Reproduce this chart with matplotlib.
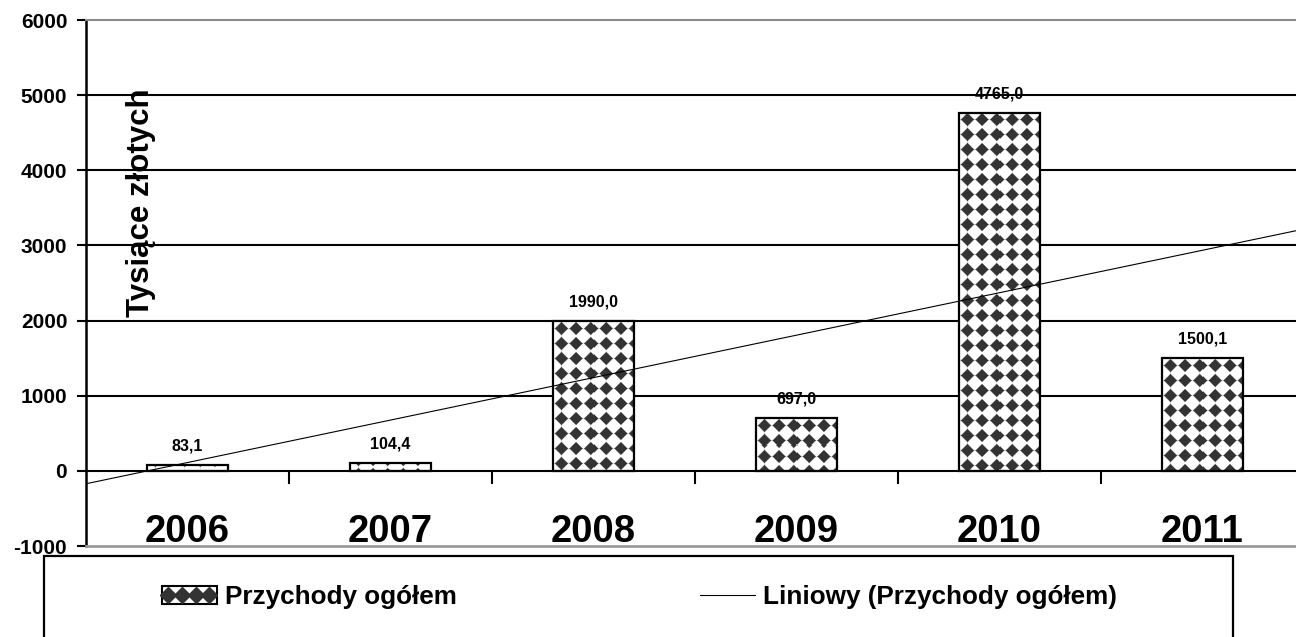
import numpy as np
import matplotlib
matplotlib.use("Agg")
import matplotlib.pyplot as plt
from matplotlib.patches import Rectangle
from matplotlib.lines import Line2D
from matplotlib.legend_handler import HandlerBase

# ---- data ----
years = ["2006", "2007", "2008", "2009", "2010", "2011"]
values = [83.1, 104.4, 1990.0, 697.0, 4765.0, 1500.1]
yticks = [-1000, 0, 1000, 2000, 3000, 4000, 5000, 6000]
ylabel = "Tysiące złotych"
series_name = "Przychody ogółem"
trend_name = "Liniowy (Przychody ogółem)"

plt.rcParams['font.family'] = ['Liberation Sans', 'DejaVu Sans']
plt.rcParams['font.weight'] = 'bold'

W, H = 1296, 637
fig = plt.figure(figsize=(W / 100, H / 100), dpi=100)
fig.patch.set_facecolor('white')

# axes in pixel layout: left 86, right 1304, top 20, bottom 546
ax = fig.add_axes([86 / W, 1 - 546 / H, 1218 / W, 526 / H])

x = np.arange(len(years))
ax.set_xlim(-0.5, len(years) - 0.5)
ax.set_ylim(yticks[0], yticks[-1])

bar_w = 0.40
bars = ax.bar(x, values, width=bar_w, facecolor='none', edgecolor='black',
              linewidth=1.6, zorder=2)

# diamond pattern fill (generated per bar in pixel units)
dark = np.array([0.2, 0.2, 0.2])
period_x, period_y, rad = 14.6, 15.0, 6.6
for b in bars:
    (px0, py0) = ax.transData.transform((b.get_x(), 0))
    (px1, py1) = ax.transData.transform((b.get_x() + b.get_width(), b.get_height()))
    wpx = max(1, int(round(px1 - px0)))
    hpx = max(1, int(round(py1 - py0)))
    cx = np.arange(wpx) + 0.5
    cy = np.arange(hpx) + 0.5  # from top of bar
    row0 = 7.5 if hpx > 20 else 11.5
    dx = np.abs(((cx - 8.5) + period_x / 2) % period_x - period_x / 2)
    dy = np.abs(((cy - row0) + period_y / 2) % period_y - period_y / 2)
    d = dx[None, :] + dy[:, None]
    t = np.clip((d - rad) / 1.6 + 0.5, 0, 1)[..., None]
    img = dark * (1 - t) + np.ones(3) * t
    ax.imshow(img, extent=(b.get_x(), b.get_x() + b.get_width(), 0, b.get_height()),
              aspect='auto', interpolation='nearest', origin='upper', zorder=1.5)

# trend line (linear fit)
coef = np.polyfit(x, values, 1)
xt = np.array([-0.5, len(years) - 0.5])
ax.plot(xt, np.polyval(coef, xt), color='black', lw=0.8, zorder=3)

ax.set_xlim(-0.5, len(years) - 0.5)
ax.set_ylim(yticks[0], yticks[-1])
ax.set_aspect('auto')

# data labels
for xi, v in zip(x, values):
    ax.annotate(f"{v:.1f}".replace('.', ','), (xi, v), xytext=(0, 10.5),
                textcoords='offset points', ha='center', va='baseline',
                fontsize=11.5, fontweight='bold', zorder=4)

# y axis
ax.set_yticks(yticks)
ax.set_yticklabels([str(t) for t in yticks], fontsize=15, fontweight='bold')
ax.tick_params(axis='y', direction='out', length=6.5, width=1.5, pad=7, colors='black')
ax.yaxis.grid(True, color='black', lw=1.5, zorder=0.5)
ax.set_axisbelow(True)
yt = ax.yaxis.get_major_ticks()
yt[0].gridline.set_visible(False)
yt[-1].gridline.set_visible(False)
yt[1].gridline.set_visible(False)

# x axis at 0
ax.spines['bottom'].set_position(('data', 0))
ax.spines['bottom'].set_color('black')
ax.spines['bottom'].set_linewidth(1.5)
ax.set_xticks(x)
ax.set_xticklabels(years, fontsize=27.5, fontweight='bold')
ax.set_xticks(x[:-1] + 0.5, minor=True)
ax.tick_params(axis='x', which='major', length=0, pad=31)
ax.tick_params(axis='x', which='minor', direction='out', length=9.5, width=1.5)

ax.spines['left'].set_linewidth(1.8)
ax.spines['right'].set_visible(False)
ax.spines['top'].set_color('#8c8c8c')
ax.spines['top'].set_linewidth(1.5)
ax.axhline(yticks[0], color='#9a9a9a', lw=2.0, clip_on=False, zorder=3)

# y label inside plot
ax.text(0.045, 0.653, ylabel, transform=ax.transAxes, rotation=90,
        ha='center', va='center', fontsize=22.5, fontweight='bold', zorder=4)

# legend
class DiamondHandler(HandlerBase):
    def create_artists(self, legend, orig_handle, xdescent, ydescent,
                       width, height, fontsize, trans):
        x0, y0 = -xdescent, -ydescent
        rect = Rectangle((x0, y0), width, height, facecolor='white',
                         edgecolor='black', lw=1.5, transform=trans)
        n = 4
        xs = x0 + width * (np.arange(n) + 0.45) / n
        ys = np.full(n, y0 + height / 2)
        ln = Line2D(xs, ys, ls='none', marker='D', ms=height * 0.6,
                    color='#333333', transform=trans)
        return [rect, ln]

bar_handle = Rectangle((0, 0), 1, 1)
line_handle = Line2D([], [], color='black', lw=0.8)
leg = fig.legend([bar_handle, line_handle], [series_name, trend_name],
                 handler_map={Rectangle: DiamondHandler()},
                 loc='center', bbox_to_anchor=(162 / W, 1 - 597 / H, (1117 - 162) / W, 0),
                 mode='expand', ncol=2, frameon=False, borderpad=0, borderaxespad=0,
                 handlelength=2.1, handleheight=0.7, handletextpad=0.3,
                 prop={'size': 18.8, 'weight': 'bold'})

fig.add_artist(Rectangle((44 / W, -0.1), (1233 - 44) / W, (637 - 556) / H + 0.1,
                         transform=fig.transFigure, fill=False, edgecolor='black',
                         lw=1.6, clip_on=False))

fig.savefig("out.png", dpi=100)
